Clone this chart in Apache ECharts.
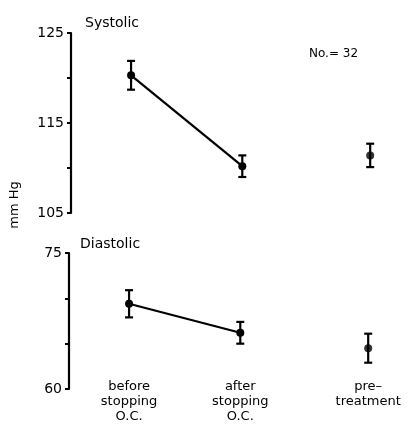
<!DOCTYPE html>
<html><head><meta charset="utf-8">
<script src="https://cdn.jsdelivr.net/npm/echarts@6/dist/echarts.min.js"></script>
<style>html,body{margin:0;padding:0;background:#fff}#c{width:409px;height:425px}</style>
</head><body><div id="c"></div>
<script>
const categories = ['before\nstopping\nO.C.', 'after\nstopping\nO.C.', 'pre–\ntreatment'];
const groupX = [1, 2, 3.15];
const systolicMean = [120.3, 110.2, 111.4];
const systolicSE = [1.6, 1.2, 1.3];
const diastolicMean = [69.4, 66.2, 64.5];
const diastolicSE = [1.5, 1.2, 1.6];
const systolicTicks = [105, 115, 125];
const diastolicTicks = [60, 75];

const FONT = 'DejaVu Sans';
const chart = echarts.init(document.getElementById('c'), null, {renderer: 'canvas'});

function errData(mean, se) {
  return groupX.map((x, i) => [x, mean[i] - se[i], mean[i] + se[i]]);
}
function errRender(params, api) {
  const x = api.value(0);
  const lo = api.coord([x, api.value(1)]);
  const hi = api.coord([x, api.value(2)]);
  const w = 4;
  const st = {stroke: '#000', lineWidth: 2.2};
  return {type: 'group', children: [
    {type: 'line', shape: {x1: lo[0], y1: lo[1], x2: hi[0], y2: hi[1]}, style: st},
    {type: 'line', shape: {x1: lo[0] - w, y1: lo[1], x2: lo[0] + w, y2: lo[1]}, style: st},
    {type: 'line', shape: {x1: hi[0] - w, y1: hi[1], x2: hi[0] + w, y2: hi[1]}, style: st}
  ]};
}
function pairs(mean, idx) { return idx.map(i => [groupX[i], mean[i]]); }

const xCommon = {type: 'value', min: 0.46, max: 3.4, splitLine: {show: false}, axisLine: {show: false}, axisTick: {show: false}};
const yCommon = {
  type: 'value', splitLine: {show: false}, interval: 5,
  axisLine: {show: true, lineStyle: {color: '#000', width: 2.2}},
  axisTick: {show: true, length: 4, lineStyle: {color: '#000', width: 2}},
  axisLabel: {color: '#000', fontFamily: FONT, fontSize: 14, margin: 7}
};
const titleStyle = {fontFamily: FONT, fontSize: 14, fontWeight: 'normal', color: '#000'};

chart.setOption({
  animation: false,
  backgroundColor: '#fff',
  title: [
    {text: 'Systolic', left: 85, top: 16, padding: 0, textStyle: titleStyle},
    {text: 'Diastolic', left: 80, top: 237, padding: 0, textStyle: titleStyle},
    {text: 'No.= 32', left: 309, top: 48, padding: 0, textStyle: Object.assign({}, titleStyle, {fontSize: 12})}
  ],
  graphic: [{type: 'text', x: 15, y: 205, rotation: Math.PI / 2,
    style: {text: 'mm Hg', fontFamily: FONT, fontSize: 13, fill: '#000', align: 'center', verticalAlign: 'middle'}}],
  grid: [
    {left: 71, top: 33, width: 327, height: 180},
    {left: 69, top: 253, width: 327, height: 136}
  ],
  xAxis: [
    Object.assign({}, xCommon, {gridIndex: 0, axisLabel: {show: false}}),
    Object.assign({}, xCommon, {gridIndex: 1, offset: -10,
      axisLabel: {show: true, customValues: groupX, margin: 0, color: '#000', fontFamily: FONT, fontSize: 13, lineHeight: 15,
        verticalAlign: 'top',
        formatter: v => { const i = groupX.indexOf(v); return i >= 0 ? categories[i] : ''; }}})
  ],
  yAxis: [
    Object.assign({}, yCommon, {gridIndex: 0, min: 105, max: 125,
      axisLabel: Object.assign({}, yCommon.axisLabel, {formatter: v => systolicTicks.includes(v) ? String(v) : ''})}),
    Object.assign({}, yCommon, {gridIndex: 1, min: 60, max: 75,
      axisLabel: Object.assign({}, yCommon.axisLabel, {formatter: v => diastolicTicks.includes(v) ? String(v) : ''})})
  ],
  series: [
    {type: 'line', xAxisIndex: 0, yAxisIndex: 0, data: pairs(systolicMean, [0, 1]), symbol: 'circle', symbolSize: 8,
      itemStyle: {color: '#000'}, lineStyle: {color: '#000', width: 2.2}},
    {type: 'scatter', xAxisIndex: 0, yAxisIndex: 0, data: pairs(systolicMean, [2]), symbol: 'circle', symbolSize: 8, itemStyle: {color: '#000'}},
    {type: 'custom', xAxisIndex: 0, yAxisIndex: 0, data: errData(systolicMean, systolicSE), renderItem: errRender},
    {type: 'line', xAxisIndex: 1, yAxisIndex: 1, data: pairs(diastolicMean, [0, 1]), symbol: 'circle', symbolSize: 8,
      itemStyle: {color: '#000'}, lineStyle: {color: '#000', width: 2.2}},
    {type: 'scatter', xAxisIndex: 1, yAxisIndex: 1, data: pairs(diastolicMean, [2]), symbol: 'circle', symbolSize: 8, itemStyle: {color: '#000'}},
    {type: 'custom', xAxisIndex: 1, yAxisIndex: 1, data: errData(diastolicMean, diastolicSE), renderItem: errRender}
  ]
});
</script></body></html>
